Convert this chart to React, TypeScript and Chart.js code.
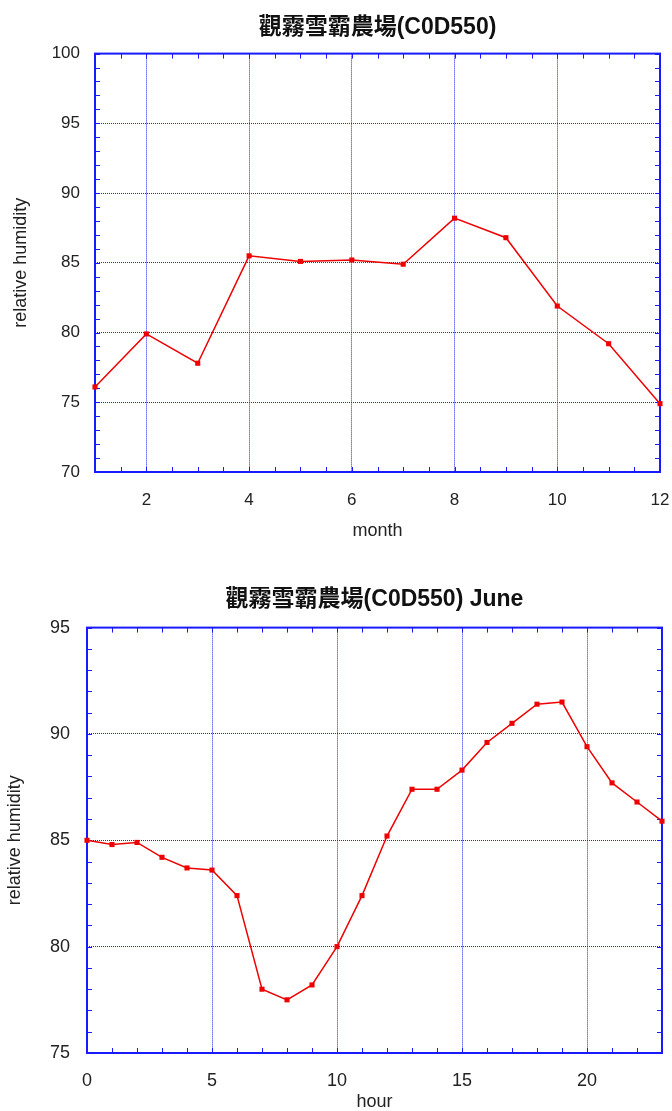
import React, { useEffect, useRef } from "react";
import { Chart, registerables } from "chart.js";

Chart.register(...registerables);

// ---------- data ----------
const TITLE_MONTHLY = "觀霧雪霸農場(C0D550)";
const TITLE_HOURLY = "觀霧雪霸農場(C0D550) June";
const Y_TITLE = "relative humidity";
const X_TITLE_MONTHLY = "month";
const X_TITLE_HOURLY = "hour";

const months = [1, 2, 3, 4, 5, 6, 7, 8, 9, 10, 11, 12];
const monthlyRH = [76.1, 79.9, 77.8, 85.5, 85.1, 85.2, 84.9, 88.2, 86.8, 81.9, 79.2, 74.9];

const hours = [0, 1, 2, 3, 4, 5, 6, 7, 8, 9, 10, 11, 12, 13, 14, 15, 16, 17, 18, 19, 20, 21, 22, 23];
const hourlyRH = [
  85.0, 84.8, 84.9, 84.2, 83.7, 83.6, 82.4, 78.0, 77.5, 78.2, 80.0, 82.4,
  85.2, 87.4, 87.4, 88.3, 89.6, 90.5, 91.4, 91.5, 89.4, 87.7, 86.8, 85.9,
];

const monthTicks = [2, 4, 6, 8, 10, 12];
const monthMinorTicks = [1.5, 2.5, 3, 3.5, 4.5, 5, 5.5, 6.5, 7, 7.5, 8.5, 9, 9.5, 10.5, 11, 11.5];
const monthlyYTicks = [70, 75, 80, 85, 90, 95, 100];
const monthlyYMinor = [71, 72, 73, 74, 76, 77, 78, 79, 81, 82, 83, 84, 86, 87, 88, 89, 91, 92, 93, 94, 96, 97, 98, 99];

const hourTicks = [0, 5, 10, 15, 20];
const hourMinorTicks = [1, 2, 3, 4, 6, 7, 8, 9, 11, 12, 13, 14, 16, 17, 18, 19, 21, 22];
const hourlyYTicks = [75, 80, 85, 90, 95];
const hourlyYMinor = [76, 77, 78, 79, 81, 82, 83, 84, 86, 87, 88, 89, 91, 92, 93, 94];

// ---------- style ----------
const BLUE = "#1a1aff";
const GRID = "#2020ff";
const RED = "#ee0000";
const TEXT = "#222222";
const FONT = "'Liberation Sans', Arial, 'Noto Sans CJK TC', sans-serif";

const framePlugin = {
  id: "frame",
  beforeDatasetsDraw(chart: any, _args: any, opts: any) {
    const { ctx, chartArea: a, scales } = chart;
    const L = 5;
    ctx.save();
    ctx.strokeStyle = BLUE;
    ctx.lineWidth = 1;
    ctx.beginPath();
    const xs = [...(opts.xMinor || []), ...(opts.xMajor || [])];
    const ys = [...(opts.yMinor || []), ...(opts.yMajor || [])];
    for (const v of xs) {
      const x = Math.round(scales.x.getPixelForValue(v)) + 0.5;
      ctx.moveTo(x, a.bottom);
      ctx.lineTo(x, a.bottom - L);
      ctx.moveTo(x, a.top);
      ctx.lineTo(x, a.top + L);
    }
    for (const v of ys) {
      const y = Math.round(scales.y.getPixelForValue(v)) + 0.5;
      ctx.moveTo(a.left, y);
      ctx.lineTo(a.left + L, y);
      ctx.moveTo(a.right, y);
      ctx.lineTo(a.right - L, y);
    }
    ctx.stroke();
    ctx.lineWidth = 2;
    ctx.strokeRect(a.left, a.top, a.right - a.left, a.bottom - a.top);
    ctx.restore();
  },
};

type Spec = {
  title: string;
  xTitle: string;
  xs: number[];
  ys: number[];
  xMin: number;
  xMax: number;
  yMin: number;
  yMax: number;
  xTicks: number[];
  yTicks: number[];
  xMinor: number[];
  yMinor: number[];
  width: number;
  height: number;
  titleFont: number;
  titlePadTop: number;
  titlePadBottom: number;
  yAxisWidth: number;
  yTitlePadTop: number;
  yTickPad: number;
  xAxisHeight: number;
  xTickPad: number;
  xTitlePadBottom: number;
  rightPad: number;
  tickFont: number;
  axisTitleFont: number;
};

function LineChart({ spec, top }: { spec: Spec; top: number }) {
  const ref = useRef<HTMLCanvasElement | null>(null);
  useEffect(() => {
    if (!ref.current) return;
    const s = spec;
    const chart = new Chart(ref.current, {
      type: "line",
      data: {
        datasets: [
          {
            data: s.xs.map((x, i) => ({ x, y: s.ys[i] })),
            borderColor: RED,
            backgroundColor: RED,
            borderWidth: 1.5,
            pointStyle: "rect",
            pointRadius: 3.6,
            pointBorderWidth: 0,
            pointBackgroundColor: RED,
            tension: 0,
            clip: false as any,
          },
        ],
      },
      options: {
        responsive: false,
        animation: false,
        devicePixelRatio: 1,
        layout: { padding: { left: 0, right: s.rightPad, top: 0, bottom: 0 } },
        plugins: {
          legend: { display: false },
          tooltip: { enabled: false },
          title: {
            display: true,
            text: s.title,
            fullSize: false,
            color: "#111111",
            font: { family: FONT, size: s.titleFont, weight: "bold" },
            padding: { top: s.titlePadTop, bottom: s.titlePadBottom },
          },
          frame: { xMinor: s.xMinor, yMinor: s.yMinor, xMajor: s.xTicks, yMajor: s.yTicks },
        } as any,
        scales: {
          x: {
            type: "linear",
            min: s.xMin,
            max: s.xMax,
            afterBuildTicks: (scale: any) => {
              scale.ticks = s.xTicks.map((v) => ({ value: v }));
            },
            afterFit: (scale: any) => {
              scale.height = s.xAxisHeight;
              scale.paddingLeft = 0;
              scale.paddingRight = 0;
            },
            grid: { color: GRID, lineWidth: 1, drawTicks: false },
            border: { display: false, dash: [1, 1] },
            ticks: {
              color: TEXT,
              padding: s.xTickPad,
              maxRotation: 0,
              autoSkip: false,
              font: { family: FONT, size: s.tickFont },
            },
            title: {
              display: true,
              text: s.xTitle,
              color: TEXT,
              font: { family: FONT, size: s.axisTitleFont },
              padding: { top: 0, bottom: s.xTitlePadBottom },
            },
          },
          y: {
            type: "linear",
            min: s.yMin,
            max: s.yMax,
            afterBuildTicks: (scale: any) => {
              scale.ticks = s.yTicks.map((v) => ({ value: v }));
            },
            afterFit: (scale: any) => {
              scale.width = s.yAxisWidth;
              scale.paddingTop = 0;
              scale.paddingBottom = 0;
            },
            grid: { color: GRID, lineWidth: 1, drawTicks: false },
            border: { display: false, dash: [1, 1] },
            ticks: {
              color: TEXT,
              padding: s.yTickPad,
              autoSkip: false,
              font: { family: FONT, size: s.tickFont },
            },
            title: {
              display: true,
              text: Y_TITLE,
              color: TEXT,
              font: { family: FONT, size: s.axisTitleFont },
              padding: { top: s.yTitlePadTop, bottom: 0 },
            },
          },
        },
      },
      plugins: [framePlugin as any],
    });
    return () => chart.destroy();
  }, [spec]);
  return (
    <div style={{ position: "absolute", left: 0, top, width: spec.width, height: spec.height }}>
      <canvas ref={ref} width={spec.width} height={spec.height} style={{ display: "block" }} />
    </div>
  );
}

const monthlySpec: Spec = {
  title: TITLE_MONTHLY,
  xTitle: X_TITLE_MONTHLY,
  xs: months,
  ys: monthlyRH,
  xMin: 1,
  xMax: 12,
  yMin: 70,
  yMax: 100,
  xTicks: monthTicks,
  yTicks: monthlyYTicks,
  xMinor: monthMinorTicks,
  yMinor: monthlyYMinor,
  width: 672,
  height: 555,
  titleFont: 23,
  titlePadTop: 14,
  titlePadBottom: 12,
  yAxisWidth: 95,
  yTitlePadTop: 10,
  yTickPad: 15,
  xAxisHeight: 83,
  xTickPad: 18,
  xTitlePadBottom: 13,
  rightPad: 12,
  tickFont: 17,
  axisTitleFont: 18,
};

const hourlySpec: Spec = {
  title: TITLE_HOURLY,
  xTitle: X_TITLE_HOURLY,
  xs: hours,
  ys: hourlyRH,
  xMin: 0,
  xMax: 23,
  yMin: 75,
  yMax: 95,
  xTicks: hourTicks,
  yTicks: hourlyYTicks,
  xMinor: hourMinorTicks,
  yMinor: hourlyYMinor,
  width: 672,
  height: 556,
  titleFont: 23,
  titlePadTop: 31,
  titlePadBottom: 14,
  yAxisWidth: 87,
  yTitlePadTop: 4,
  yTickPad: 17,
  xAxisHeight: 58,
  xTickPad: 17,
  xTitlePadBottom: -2,
  rightPad: 10,
  tickFont: 18,
  axisTitleFont: 18,
};

export default function App() {
  return (
    <div style={{ position: "absolute", left: 0, top: 0, width: 672, height: 1111, overflow: "hidden" }}>
      <LineChart spec={monthlySpec} top={0} />
      <LineChart spec={hourlySpec} top={555} />
    </div>
  );
}
